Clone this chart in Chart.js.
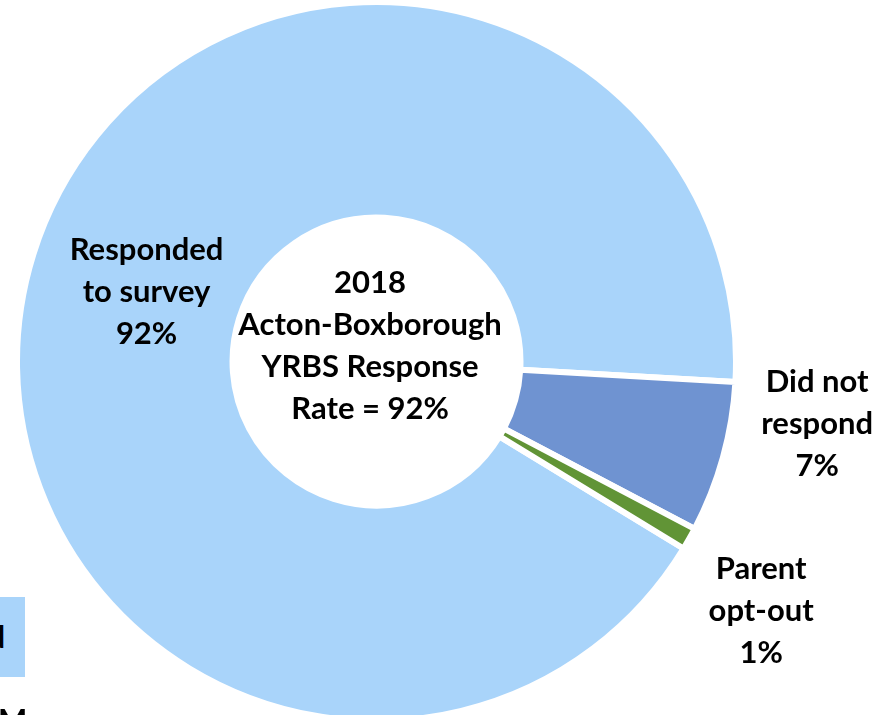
<!DOCTYPE html>
<html>
<head>
<meta charset="utf-8">
<script src="https://cdn.jsdelivr.net/npm/chart.js@4"></script>
<style>
  html, body { margin: 0; padding: 0; background: #ffffff; overflow: hidden; }
  #wrap { position: absolute; left: 0; top: 0; width: 893px; height: 715px; }
  #frag1 { position: absolute; left: 0; top: 597px; width: 25px; height: 80px; background: #A9D4FA; overflow: hidden; }
  #frag1 span { position: absolute; right: 20px; top: 24px; font: bold 31px Lato, sans-serif; color: #000; line-height: 30px; }
  #frag2 { position: absolute; left: -2px; top: 704px; font: bold 31px Lato, sans-serif; color: #000; line-height: 30px; }
</style>
</head>
<body>
<div id="wrap"><canvas id="c" width="893" height="715"></canvas></div>
<div id="frag1"><span>d</span></div>
<div id="frag2">M</div>
<script>
// ---- data ----
const categories = ["Responded to survey", "Did not respond", "Parent opt-out"];
const values = [92.2, 6.8, 1.0];
const percentLabels = ["92%", "7%", "1%"];
const centerTitle = ["2018", "Acton-Boxborough", "YRBS Response", "Rate = 92%"];
const labelLines = [["Responded", "to survey"], ["Did not", "respond"], ["Parent", "opt-out"]];

// ---- styles ----
const colors = ["#A9D4FA", "#6F93D1", "#619436"];
const FONT = "bold 31px Lato, 'Open Sans', sans-serif";
const LINE_H = 42;
// label block centres relative to chart centre, in units of the outer radius
const labelAnchors = [
  { dx: -0.645, dy: -0.166 },
  { dx: 1.236, dy: 0.203 },
  { dx: 1.079, dy: 0.728 }
];
const centerAnchor = { dx: -0.018, dy: -0.015 };

const labelPlugin = {
  id: "labelPlugin",
  afterDatasetsDraw(chart) {
    const ctx = chart.ctx;
    const arc = chart.getDatasetMeta(0).data[0];
    const cx = arc.x, cy = arc.y, R = 356.5;
    ctx.save();
    ctx.font = FONT;
    ctx.fillStyle = "#000";
    ctx.textAlign = "center";
    ctx.textBaseline = "alphabetic";
    const drawBlock = (lines, ax, ay) => {
      const n = lines.length;
      lines.forEach((t, i) => {
        const y = ay + (i - (n - 1) / 2) * LINE_H;
        ctx.fillText(t, ax, y);
      });
    };
    labelLines.forEach((lines, i) => {
      const a = labelAnchors[i];
      drawBlock(lines.concat([percentLabels[i]]), cx + a.dx * R, cy + a.dy * R);
    });
    drawBlock(centerTitle, cx + centerAnchor.dx * R, cy + centerAnchor.dy * R);
    ctx.restore();
  }
};

new Chart(document.getElementById("c"), {
  type: "doughnut",
  data: {
    labels: categories,
    datasets: [{
      data: values,
      backgroundColor: colors,
      borderColor: "#ffffff",
      borderWidth: 6,
      hoverOffset: 0
    }]
  },
  options: {
    responsive: false,
    animation: false,
    rotation: 121.35,
    radius: 359.5,
    cutout: "40.05%",
    layout: { padding: { left: 0, right: 140, top: 8, bottom: 0 } },
    plugins: {
      legend: { display: false },
      tooltip: { enabled: false },
      title: { display: false }
    }
  },
  plugins: [labelPlugin]
});
</script>
</body>
</html>
